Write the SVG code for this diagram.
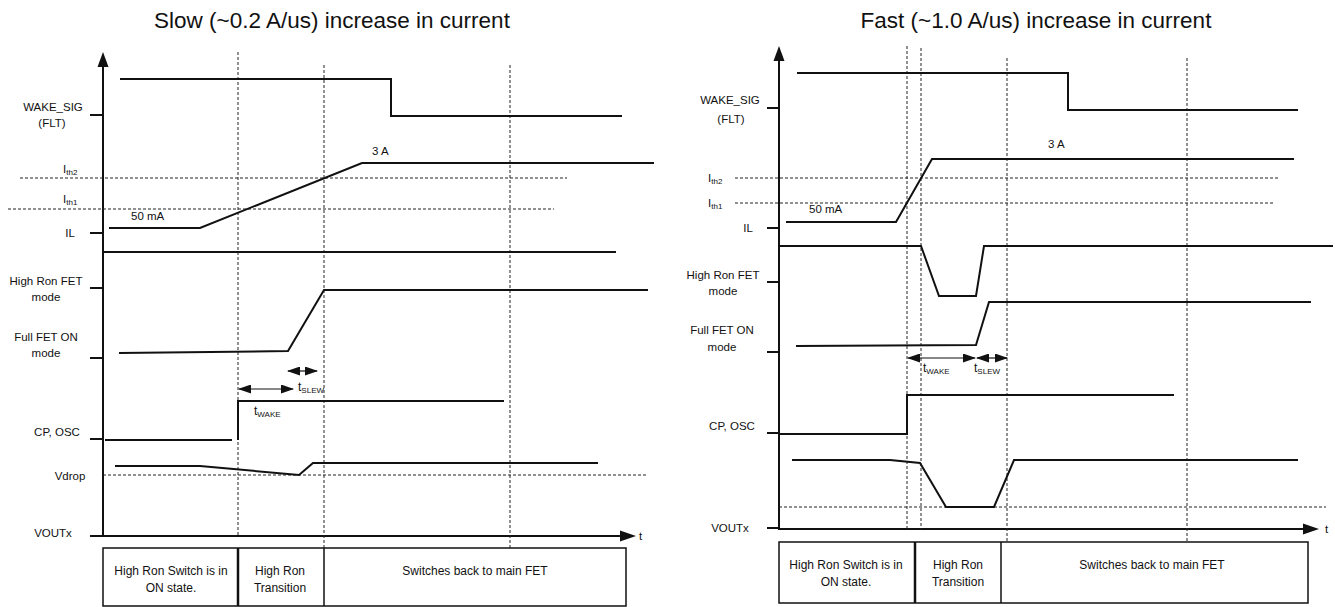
<svg xmlns="http://www.w3.org/2000/svg" width="1335" height="607" viewBox="0 0 1335 607">
<style>
text{font-family:"Liberation Sans",Arial,sans-serif;fill:#111}
.title{font-size:22.5px;text-anchor:middle}
.lbl{font-size:11.5px;text-anchor:middle}
.lbs{font-size:11.5px}
.sub{font-size:8px}
.box{font-size:12px;text-anchor:middle}
.sig{fill:none;stroke:#111;stroke-width:2;stroke-linejoin:miter}
.axis{fill:none;stroke:#111;stroke-width:2}
.tick{stroke:#111;stroke-width:2}
.dash{fill:none;stroke:#222;stroke-width:1;stroke-dasharray:3 2}
.bx{fill:none;stroke:#111;stroke-width:1.5}
.ah{fill:#111}
</style>
<defs>
<marker id="arr" markerWidth="13" markerHeight="9" refX="12" refY="4.5" orient="auto-start-reverse" markerUnits="userSpaceOnUse">
<path d="M0,0 L13,4.5 L0,9 Z" fill="#111"/>
</marker>
</defs>

<text class="title" x="332" y="28">Slow (~0.2 A/us) increase in current</text>
<text class="title" x="1036" y="28">Fast (~1.0 A/us) increase in current</text>

<!-- LEFT PANEL -->
<g id="left-axes">
<path class="axis" d="M103,64 V536 H622"/>
<path class="ah" d="M103,52 L97.5,67 L108.5,67 Z"/>
<path class="ah" d="M636,536 L620,530.5 L620,541.5 Z"/>
<text class="lbs" x="639" y="540">t</text>
<path class="tick" d="M90,115 H103 M90,233 H103 M90,288 H103 M90,358 H103 M90,439 H103 M90,536 H103"/>
</g>
<g id="left-labels">
<text class="lbl" x="53" y="111">WAKE_SIG</text>
<text class="lbl" x="52" y="127">(FLT)</text>
<text class="lbs" x="63" y="173" font-size="12">I<tspan class="sub" dy="2">th2</tspan></text>
<text class="lbs" x="63" y="203" font-size="12">I<tspan class="sub" dy="2">th1</tspan></text>
<text class="lbl" x="70" y="237">IL</text>
<text class="lbl" x="46" y="285">High Ron FET</text>
<text class="lbl" x="46" y="301">mode</text>
<text class="lbl" x="46" y="341">Full FET ON</text>
<text class="lbl" x="46" y="357">mode</text>
<text class="lbl" x="57" y="436">CP, OSC</text>
<text class="lbl" x="70" y="480">Vdrop</text>
<text class="lbl" x="53" y="537">VOUTx</text>
<text class="lbs" x="131" y="220">50  mA</text>
<text class="lbs" x="372" y="155">3 A</text>
</g>
<g id="left-connectors">
<path class="dash" d="M238,52 V536 M324,65 V548 M510,65 V548"/>
<path class="dash" d="M20,178 H567 M8,209 H554 M103,475 H648"/>
<path class="sig" d="M120,79 H391 V116 H622"/>
<path class="sig" d="M109,228 H200 L362,163 H654"/>
<path class="sig" d="M103,252 H616"/>
<path class="sig" d="M119,353 L288,351 L324,290 H648"/>
<path class="sig" d="M105,440 H232"/>
<path class="sig" d="M238,440 V401 H504"/>
<path class="sig" d="M115,466 H200 L299,475 L313,463 H598"/>
<path fill="none" stroke="#111" stroke-width="1.2" marker-start="url(#arr)" marker-end="url(#arr)" d="M239,389 H293"/>
<path fill="none" stroke="#111" stroke-width="1.2" marker-start="url(#arr)" marker-end="url(#arr)" d="M288,371 H317"/>
</g>
<g id="left-timing-labels">
<text x="254" y="415" font-size="12">t<tspan class="sub" dy="2">WAKE</tspan></text>
<text x="298" y="391" font-size="12">t<tspan class="sub" dy="2">SLEW</tspan></text>
</g>
<g id="left-phases">
<rect class="bx" x="103" y="548" width="523" height="58"/>
<path stroke="#111" stroke-width="2.5" d="M238,548 V606"/>
<path stroke="#111" stroke-width="1.5" d="M324,548 V606"/>
<text class="box" x="171" y="575">High Ron Switch is in</text>
<text class="box" x="171" y="592">ON state.</text>
<text class="box" x="280" y="575">High Ron</text>
<text class="box" x="280" y="592">Transition</text>
<text class="box" x="475" y="575">Switches back to main FET</text>
</g>

<!-- RIGHT PANEL -->
<g id="right-axes">
<path class="axis" d="M779,58 V529 H1305"/>
<path class="ah" d="M779,46 L773.5,61 L784.5,61 Z"/>
<path class="ah" d="M1319,529 L1303,523.5 L1303,534.5 Z"/>
<text class="lbs" x="1325" y="533">t</text>
<path class="tick" d="M767,108 H779 M767,228 H779 M767,282 H779 M767,352 H779 M767,433 H779 M767,528 H779"/>
</g>
<g id="right-labels">
<text class="lbl" x="730" y="104">WAKE_SIG</text>
<text class="lbl" x="731" y="123">(FLT)</text>
<text class="lbs" x="708" y="182" font-size="12">I<tspan class="sub" dy="2">th2</tspan></text>
<text class="lbs" x="708" y="207" font-size="12">I<tspan class="sub" dy="2">th1</tspan></text>
<text class="lbl" x="748" y="232">IL</text>
<text class="lbl" x="723" y="279">High Ron FET</text>
<text class="lbl" x="723" y="295">mode</text>
<text class="lbl" x="722" y="334">Full FET ON</text>
<text class="lbl" x="722" y="351">mode</text>
<text class="lbl" x="732" y="430">CP, OSC</text>
<text class="lbl" x="730" y="532">VOUTx</text>
<text class="lbs" x="809" y="213">50  mA</text>
<text class="lbs" x="1048" y="148">3 A</text>
</g>
<g id="right-connectors">
<path class="dash" d="M907,46 V529 M921,48 V529 M1007,58 V542 M1187,58 V542"/>
<path class="dash" d="M735,178 H1280 M735,203 H1273 M779,507 H1326"/>
<path class="sig" d="M797,73 H1068 V110 H1298"/>
<path class="sig" d="M786,222 H896 L932,159 H1294"/>
<path class="sig" d="M779,246 H921 L939,296 H976 L984,246 H1333"/>
<path class="sig" d="M796,346 L976,345 L989,302 H1311"/>
<path class="sig" d="M779,434 H907 V395 H1174"/>
<path class="sig" d="M792,460 H890 L920,463 L946,507 H994 L1014,460 H1298"/>
<path fill="none" stroke="#111" stroke-width="1.2" marker-start="url(#arr)" marker-end="url(#arr)" d="M908,358 H975"/>
<path fill="none" stroke="#111" stroke-width="1.2" marker-start="url(#arr)" marker-end="url(#arr)" d="M977,358 H1007"/>
</g>
<g id="right-timing-labels">
<text x="923" y="372" font-size="12">t<tspan class="sub" dy="2">WAKE</tspan></text>
<text x="974" y="372" font-size="12">t<tspan class="sub" dy="2">SLEW</tspan></text>
</g>
<g id="right-phases">
<rect class="bx" x="779" y="542" width="529" height="61"/>
<path stroke="#111" stroke-width="2.5" d="M915,542 V603"/>
<path stroke="#111" stroke-width="1.5" d="M1001,542 V603"/>
<text class="box" x="846" y="569">High Ron Switch is in</text>
<text class="box" x="846" y="586">ON state.</text>
<text class="box" x="958" y="569">High Ron</text>
<text class="box" x="958" y="586">Transition</text>
<text class="box" x="1152" y="569">Switches back to main FET</text>
</g>
</svg>
